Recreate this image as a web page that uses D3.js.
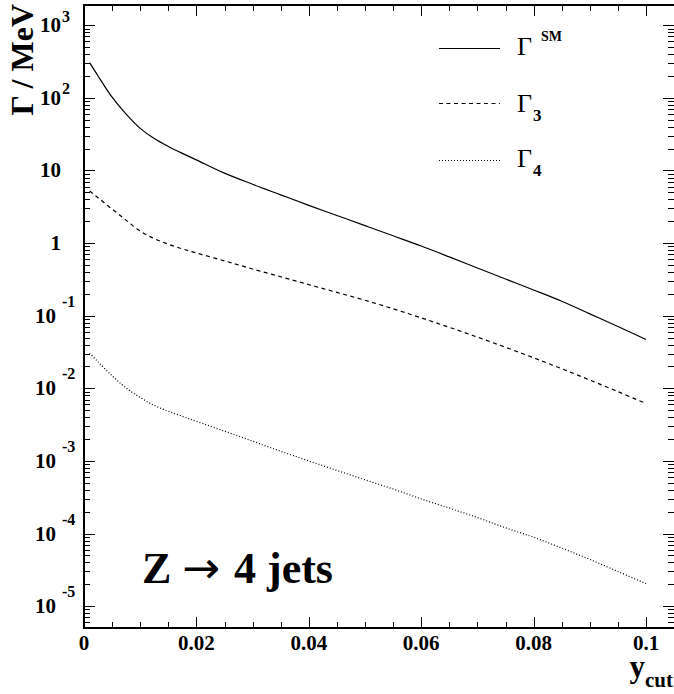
<!DOCTYPE html>
<html><head><meta charset="utf-8">
<script src="https://cdn.jsdelivr.net/npm/d3@7"></script>
<style>body{margin:0;background:#fff;} svg{display:block;}</style>
</head><body>
<script>
// ---- data ----
const yCut = [0.001,0.0025,0.005,0.0075,0.01,0.0125,0.015,0.0175,0.02,0.025,0.03,0.035,0.04,0.045,0.05,0.055,0.06,0.065,0.07,0.075,0.08,0.085,0.09,0.095,0.1];
const gammaSM = [305,200,102,59.6,38,27.5,21.4,17.2,14.0,9.2,6.46,4.62,3.31,2.4,1.74,1.26,0.91,0.645,0.454,0.32,0.226,0.158,0.106,0.071,0.047];
const gamma3 = [5.2,4.2,2.94,2.07,1.46,1.15,0.966,0.832,0.73,0.569,0.44,0.344,0.268,0.209,0.163,0.1245,0.0933,0.0692,0.0507,0.0367,0.0263,0.0186,0.013,0.009,0.00617];
const gamma4 = [0.0305,0.0231,0.0149,0.0101,0.00748,0.0058,0.00484,0.00411,0.00351,0.00257,0.00187,0.00136,0.001,0.00074,0.00055,0.00041,0.0003,0.000224,0.000166,0.00012,0.000089,0.000063,0.000044,0.00003,0.0000204];
const xTickValues = [0,0.02,0.04,0.06,0.08,0.1];
const xTickLabels = ["0","0.02","0.04","0.06","0.08","0.1"];
const yExponents = [3,2,1,0,-1,-2,-3,-4,-5];
const seriesNames = ["SM","3","4"];
const xDomain = [0, 0.105];
const yDomain = [5e-6, 1900];

// ---- setup ----
const W = 674, H = 694;
const L = 84, R = 674.1, T = 5, B = 628;
const FONT = "'Liberation Serif','Times New Roman',serif";
const svg = d3.select("body").append("svg").attr("width", W).attr("height", H);
const x = d3.scaleLinear().domain(xDomain).range([L, R]);
const y = d3.scaleLog().domain(yDomain).range([B, T]);

// ticks
const tickG = svg.append("g").attr("stroke", "#000").attr("stroke-width", 1);
const xMinor = d3.range(0, 0.10501, 0.005);
xMinor.forEach(v => {
  const major = Math.abs(v / 0.02 - Math.round(v / 0.02)) < 1e-6;
  const len = major ? 11 : 6;
  const px = Math.round(x(v)) + 0.5;
  tickG.append("line").attr("x1", px).attr("x2", px).attr("y1", B).attr("y2", B - len);
  tickG.append("line").attr("x1", px).attr("x2", px).attr("y1", T).attr("y2", T + len);
});
for (let e = -6; e <= 3; e++) {
  for (let m = 1; m <= 9; m++) {
    const v = m * Math.pow(10, e);
    if (v < yDomain[0] * 0.999 || v > yDomain[1]) continue;
    const len = m === 1 ? 11 : 6;
    const py = Math.round(y(v)) + 0.5;
    tickG.append("line").attr("x1", L).attr("x2", L + len).attr("y1", py).attr("y2", py);
    tickG.append("line").attr("x1", W).attr("x2", W - len).attr("y1", py).attr("y2", py);
  }
}

// frame
const frame = svg.append("g").attr("stroke", "#000").attr("stroke-width", 2);
frame.append("line").attr("x1", L).attr("x2", L).attr("y1", T - 1).attr("y2", B + 1);
frame.append("line").attr("x1", L - 1).attr("x2", W).attr("y1", B).attr("y2", B);
frame.append("line").attr("x1", L - 1).attr("x2", W).attr("y1", T).attr("y2", T);

// x tick labels
xTickValues.forEach((v, i) => {
  svg.append("text").attr("x", x(v)).attr("y", 650)
    .attr("text-anchor", "middle").attr("font-family", FONT).attr("font-weight", "bold")
    .attr("font-size", 21).text(xTickLabels[i]);
});

// y tick labels
yExponents.forEach(e => {
  const py = y(Math.pow(10, e));
  if (e === 0 || e === 1) {
    svg.append("text").attr("x", 61).attr("y", py + 7).attr("text-anchor", "end")
      .attr("font-family", FONT).attr("font-weight", "bold").attr("font-size", 21)
      .text(e === 0 ? "1" : "10");
  } else {
    const neg = e < 0;
    svg.append("text").attr("x", neg ? 56 : 61).attr("y", py + 7).attr("text-anchor", "end")
      .attr("font-family", FONT).attr("font-weight", "bold").attr("font-size", 21).text("10");
    svg.append("text").attr("x", 62).attr("y", neg ? py - 9 : py - 3.5)
      .attr("font-family", FONT).attr("font-weight", "bold").attr("font-size", 16)
      .text(neg ? "-" + Math.abs(e) : String(e));
  }
});

// curves
const series = [gammaSM, gamma3, gamma4];
const dashes = [null, "4,3.5", "1,2"];
const line = d3.line().x(d => x(d[0])).y(d => y(d[1])).curve(d3.curveCatmullRom.alpha(0.5));
series.forEach((s, i) => {
  svg.append("path").datum(yCut.map((c, j) => [c, s[j]]))
    .attr("d", line).attr("fill", "none").attr("stroke", "#000")
    .attr("stroke-width", 1.2).attr("stroke-dasharray", dashes[i]);
});

// legend
const legY = [48.5, 103.5, 160.5];
seriesNames.forEach((n, i) => {
  svg.append("line").attr("x1", 439).attr("x2", 500).attr("y1", legY[i]).attr("y2", legY[i])
    .attr("stroke", "#000").attr("stroke-width", 1.2).attr("stroke-dasharray", dashes[i]);
  const base = [55, 112, 167][i];
  svg.append("text").attr("x", 517).attr("y", base).attr("font-family", FONT)
    .attr("font-size", 26).text("\u0393");
  if (i === 0) {
    svg.append("text").attr("x", 541).attr("y", 41).attr("font-family", FONT)
      .attr("font-weight", "bold").attr("font-size", 14).text(n);
  } else {
    svg.append("text").attr("x", 533).attr("y", base + 9).attr("font-family", FONT)
      .attr("font-weight", "bold").attr("font-size", 17).text(n);
  }
});

// axis titles
svg.append("text").attr("transform", "translate(33,4) rotate(-90)").attr("text-anchor", "end")
  .attr("font-family", FONT).attr("font-weight", "bold").attr("font-size", 32)
  .text("\u0393 / MeV");
const yt = svg.append("text").attr("x", 673).attr("y", 677).attr("text-anchor", "end")
  .attr("font-family", FONT).attr("font-weight", "bold");
yt.append("tspan").attr("font-size", 31).text("y");
yt.append("tspan").attr("font-size", 21).attr("dy", 10).text("cut");

// annotation
const annFont = 44;
svg.append("text").attr("x", 142).attr("y", 583).attr("font-family", FONT)
  .attr("font-weight", "bold").attr("font-size", annFont).text("Z");
svg.append("text").attr("x", 182).attr("y", 583).attr("font-family", "'DejaVu Sans',sans-serif")
  .attr("font-weight", "normal").attr("font-size", annFont).attr("textLength", 38)
  .attr("lengthAdjust", "spacingAndGlyphs").text("\u2192");
svg.append("text").attr("x", 234).attr("y", 583).attr("font-family", FONT)
  .attr("font-weight", "bold").attr("font-size", annFont).text("4 jets");
</script>
</body></html>
